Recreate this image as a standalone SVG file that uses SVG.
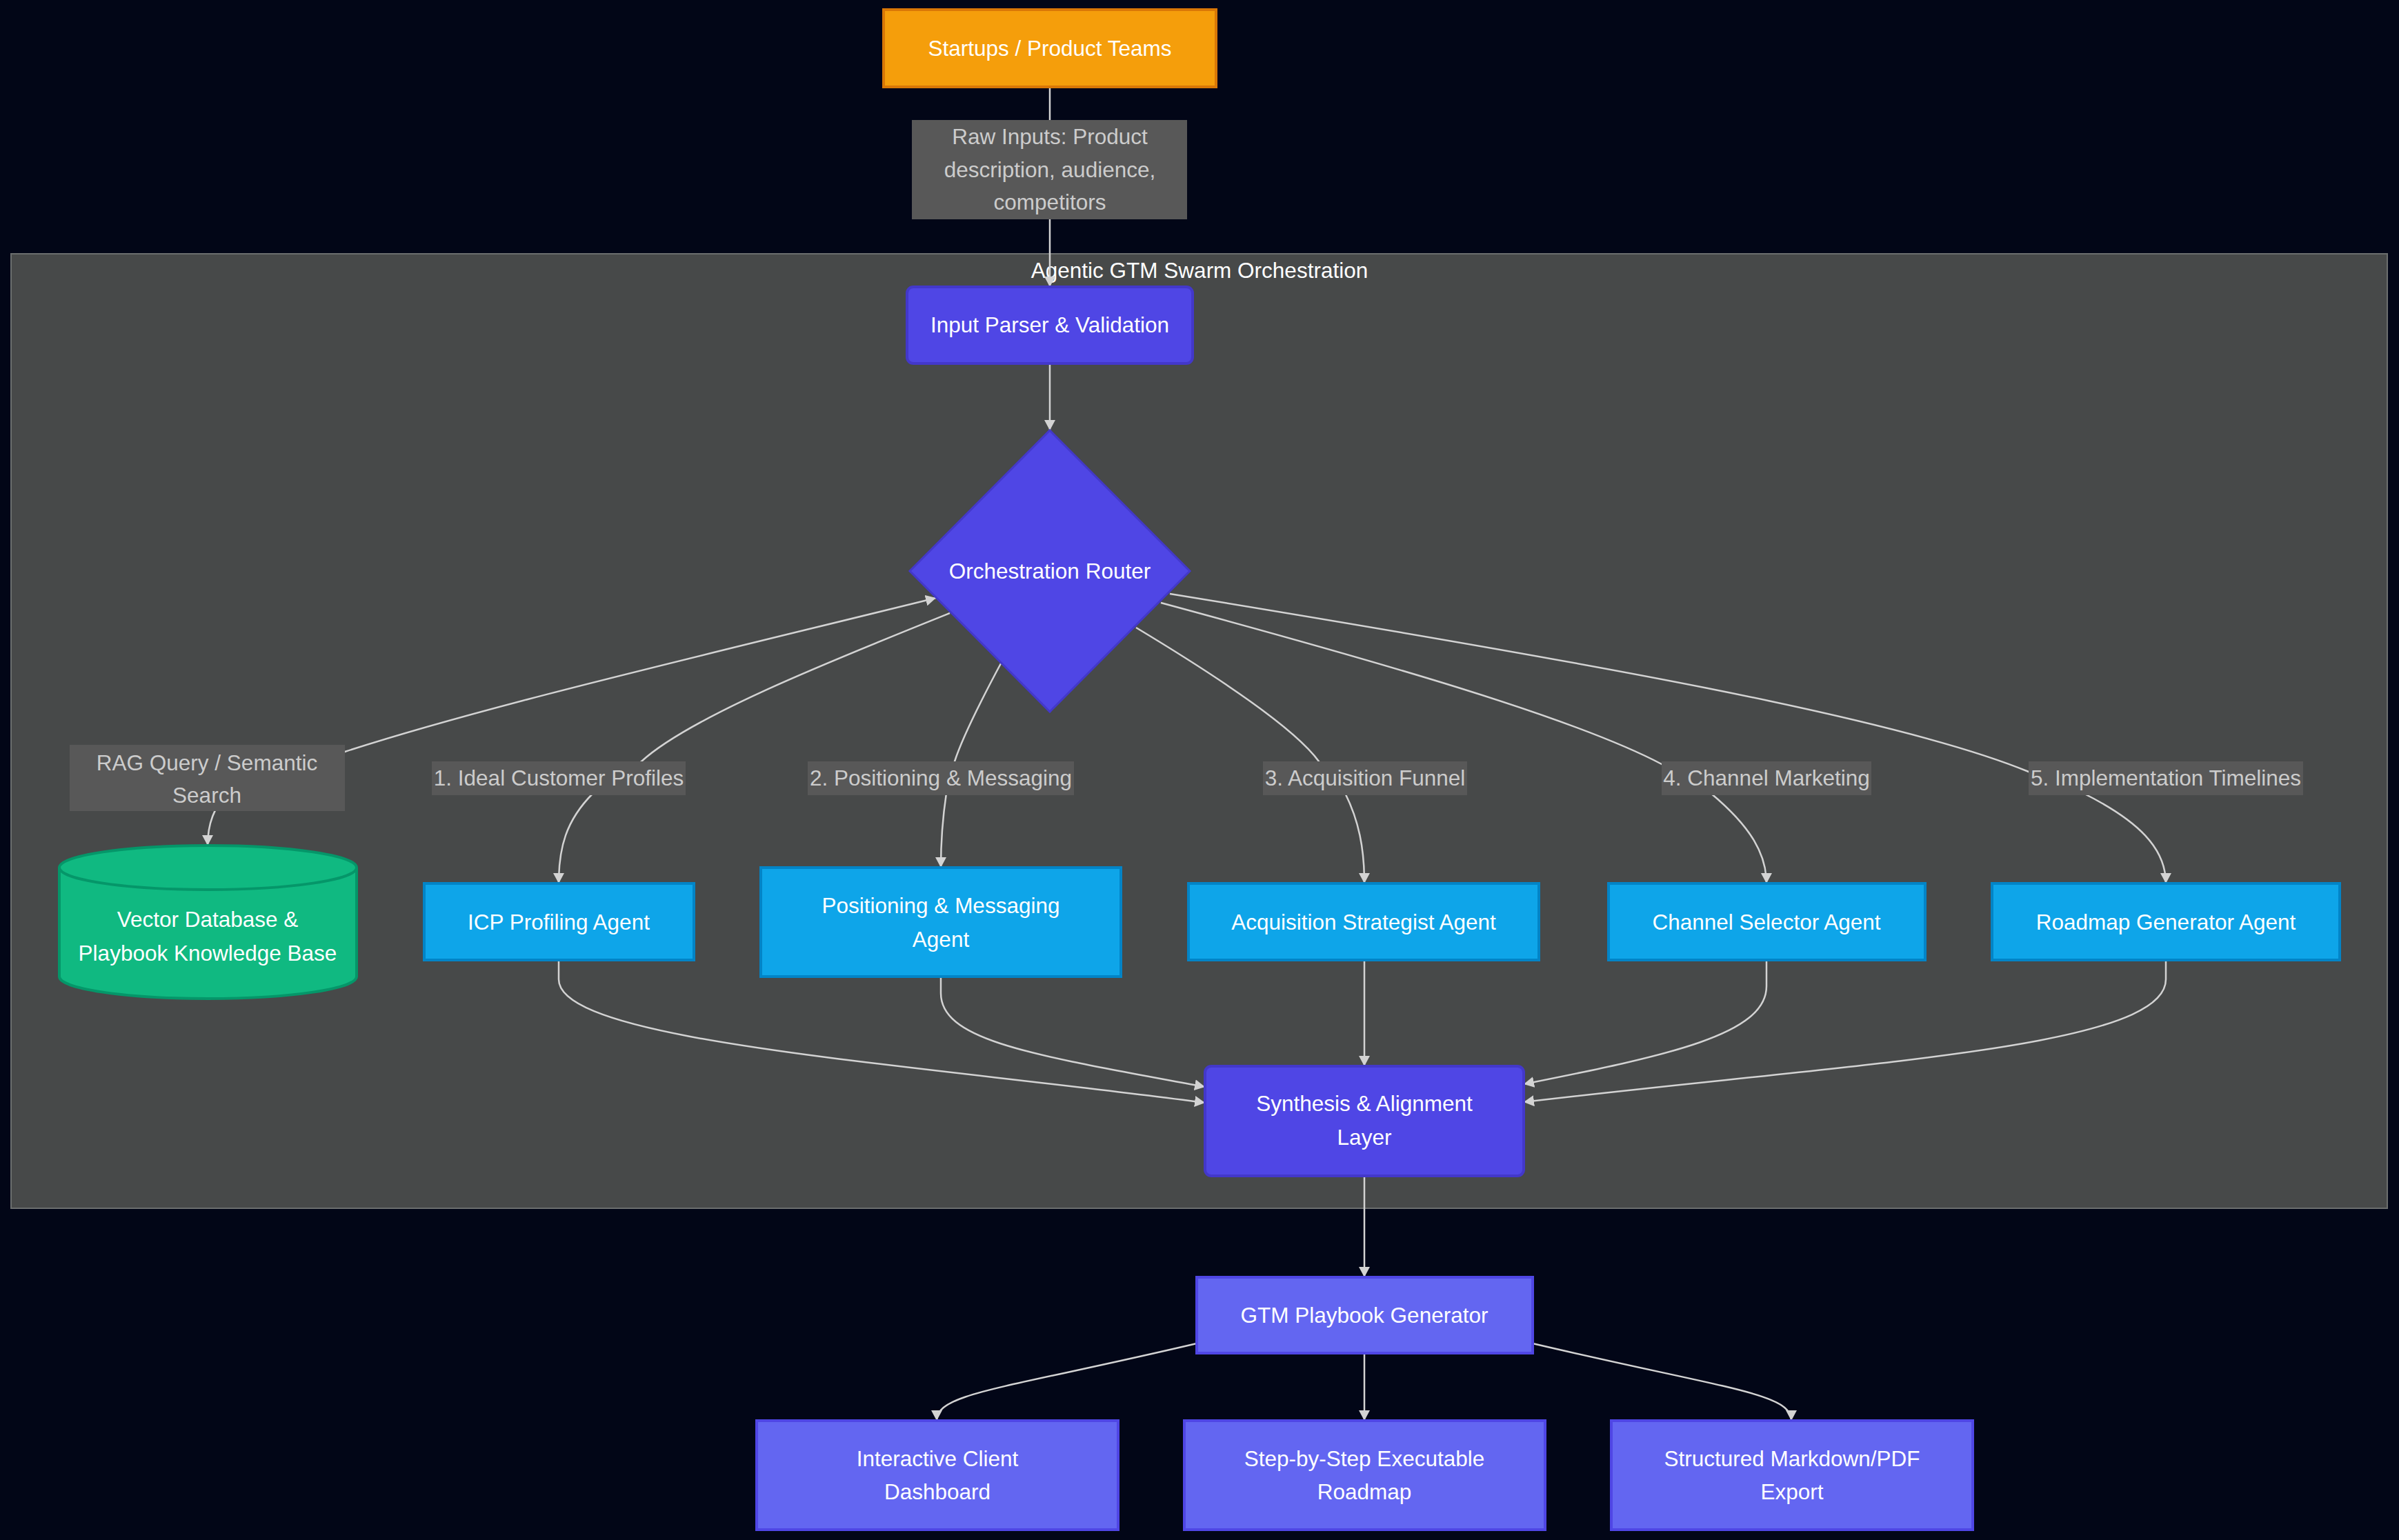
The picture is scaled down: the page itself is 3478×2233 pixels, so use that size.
<svg xmlns="http://www.w3.org/2000/svg" width="3478" height="2233" viewBox="0 0 3478 2233">
<defs>
<style>
text{font-family:"Liberation Sans",Arial,sans-serif;font-size:31.5px;text-anchor:middle;dominant-baseline:central}
.nt{fill:#ffffff}
.lt{fill:#cccccc}
.lbl{fill:#585858}
.edge{fill:none;stroke:#d3d3d3;stroke-width:2.5}
.agent{fill:#0ea5e9;stroke:#0284c7;stroke-width:4}
.core{fill:#4f46e5;stroke:#4338ca;stroke-width:4}
.out{fill:#6366f1;stroke:#4f46e5;stroke-width:4}
</style>
<marker id="arr" viewBox="0 0 15 16" refX="15" refY="8" markerWidth="15" markerHeight="16" markerUnits="userSpaceOnUse" orient="auto-start-reverse">
<path d="M0,0 L15,8 L0,16 z" fill="#d3d3d3"/>
</marker>
</defs>
<rect x="0" y="0" width="3478" height="2233" fill="#020617"/>

<g id="cluster">
<rect x="16" y="368" width="3445" height="1384" fill="#474949" stroke="#6b6e6e" stroke-width="2"/>
<text x="1739" y="392" class="nt">Agentic GTM Swarm Orchestration</text>
</g>

<g id="connectors">
<path class="edge" d="M1522 126 L1522 416" marker-end="url(#arr)"/>
<path class="edge" d="M1522 527 L1522 624" marker-end="url(#arr)"/>
<path class="edge" d="M1357 867 C1000 955,700 1025,500 1090 L330 1150 C310 1170,301 1195,301 1226" marker-start="url(#arr)" marker-end="url(#arr)"/>
<path class="edge" d="M1377 889 C1200 960,1000 1040,930 1104 L860 1150 C820 1190,810 1230,810 1281" marker-end="url(#arr)"/>
<path class="edge" d="M1451 962 C1420 1020,1395 1070,1384 1104 L1372 1150 C1366 1190,1364 1220,1364 1258" marker-end="url(#arr)"/>
<path class="edge" d="M1647 910 C1780 990,1880 1060,1912 1104 L1950 1150 C1970 1190,1978 1230,1978 1281" marker-end="url(#arr)"/>
<path class="edge" d="M1683 874 C2000 960,2280 1040,2409 1108 L2480 1150 C2540 1200,2561 1240,2561 1281" marker-end="url(#arr)"/>
<path class="edge" d="M1696 861 C2300 960,2750 1040,2941 1119 L3020 1150 C3100 1190,3140 1230,3140 1281" marker-end="url(#arr)"/>
<path class="edge" d="M810 1392 L810 1420 C810 1510,1300 1540,1747 1599" marker-end="url(#arr)"/>
<path class="edge" d="M1364 1416 L1364 1440 C1364 1510,1500 1530,1747 1576" marker-end="url(#arr)"/>
<path class="edge" d="M1978 1392 L1978 1546" marker-end="url(#arr)"/>
<path class="edge" d="M2561 1392 L2561 1430 C2561 1500,2420 1530,2209 1572" marker-end="url(#arr)"/>
<path class="edge" d="M3140 1392 L3140 1420 C3140 1520,2700 1540,2209 1598" marker-end="url(#arr)"/>
<path class="edge" d="M1978 1705 L1978 1852" marker-end="url(#arr)"/>
<path class="edge" d="M1735 1948 C1450 2015,1358 2020,1358 2060" marker-end="url(#arr)"/>
<path class="edge" d="M1978 1962 L1978 2060" marker-end="url(#arr)"/>
<path class="edge" d="M2222 1948 C2507 2015,2597 2020,2597 2060" marker-end="url(#arr)"/>
</g>

<g id="edge-labels">
<g id="lbl-raw"><rect class="lbl" x="1322" y="174" width="399" height="144"/>
<text x="1522" y="198" class="lt">Raw Inputs: Product</text>
<text x="1522" y="246" class="lt">description, audience,</text>
<text x="1522" y="293" class="lt">competitors</text></g>
<g id="lbl-rag"><rect class="lbl" x="101" y="1080" width="399" height="96"/>
<text x="300" y="1106" class="lt">RAG Query / Semantic</text>
<text x="300" y="1153" class="lt">Search</text></g>
<g id="lbl-1"><rect class="lbl" x="626" y="1104" width="368" height="49"/><text x="810" y="1128" class="lt">1. Ideal Customer Profiles</text></g>
<g id="lbl-2"><rect class="lbl" x="1171" y="1104" width="386" height="49"/><text x="1364" y="1128" class="lt">2. Positioning &amp; Messaging</text></g>
<g id="lbl-3"><rect class="lbl" x="1831" y="1104" width="296" height="49"/><text x="1979" y="1128" class="lt">3. Acquisition Funnel</text></g>
<g id="lbl-4"><rect class="lbl" x="2409" y="1104" width="304" height="49"/><text x="2561" y="1128" class="lt">4. Channel Marketing</text></g>
<g id="lbl-5"><rect class="lbl" x="2941" y="1104" width="398" height="49"/><text x="3140" y="1128" class="lt">5. Implementation Timelines</text></g>
</g>

<g id="startups">
<rect x="1281" y="14" width="482" height="112" fill="#f59e0b" stroke="#d97706" stroke-width="4"/>
<text x="1522" y="70" class="nt">Startups / Product Teams</text>
</g>

<g id="input-parser">
<rect x="1315" y="416" width="414" height="111" rx="9" class="core"/>
<text x="1522" y="471" class="nt">Input Parser &amp; Validation</text>
</g>

<g id="router">
<polygon points="1522,624 1725,828 1522,1032 1319,828" class="core" style="stroke-width:3"/>
<text x="1522" y="828" class="nt">Orchestration Router</text>
</g>

<g id="vector-db">
<path d="M86 1258 A215.5 32 0 0 0 517 1258 A215.5 32 0 0 0 86 1258 L86 1416 A215.5 32 0 0 0 517 1416 L517 1258" fill="#10b981" stroke="#059669" stroke-width="4"/>
<text x="301" y="1333" class="nt">Vector Database &amp;</text>
<text x="301" y="1382" class="nt">Playbook Knowledge Base</text>
</g>

<g id="icp-agent">
<rect x="615" y="1281" width="391" height="111" class="agent"/>
<text x="810" y="1337" class="nt">ICP Profiling Agent</text>
</g>

<g id="positioning-agent">
<rect x="1103" y="1258" width="522" height="158" class="agent"/>
<text x="1364" y="1313" class="nt">Positioning &amp; Messaging</text>
<text x="1364" y="1362" class="nt">Agent</text>
</g>

<g id="acquisition-agent">
<rect x="1723" y="1281" width="508" height="111" class="agent"/>
<text x="1977" y="1337" class="nt">Acquisition Strategist Agent</text>
</g>

<g id="channel-agent">
<rect x="2332" y="1281" width="459" height="111" class="agent"/>
<text x="2561" y="1337" class="nt">Channel Selector Agent</text>
</g>

<g id="roadmap-agent">
<rect x="2888" y="1281" width="504" height="111" class="agent"/>
<text x="3140" y="1337" class="nt">Roadmap Generator Agent</text>
</g>

<g id="synthesis">
<rect x="1747" y="1546" width="462" height="159" rx="9" class="core"/>
<text x="1978" y="1600" class="nt">Synthesis &amp; Alignment</text>
<text x="1978" y="1649" class="nt">Layer</text>
</g>

<g id="playbook-generator">
<rect x="1735" y="1852" width="487" height="110" class="out"/>
<text x="1978" y="1907" class="nt">GTM Playbook Generator</text>
</g>

<g id="dashboard">
<rect x="1097" y="2060" width="524" height="158" class="out"/>
<text x="1359" y="2115" class="nt">Interactive Client</text>
<text x="1359" y="2163" class="nt">Dashboard</text>
</g>

<g id="roadmap-out">
<rect x="1717" y="2060" width="523" height="158" class="out"/>
<text x="1978" y="2115" class="nt">Step-by-Step Executable</text>
<text x="1978" y="2163" class="nt">Roadmap</text>
</g>

<g id="export">
<rect x="2336" y="2060" width="524" height="158" class="out"/>
<text x="2598" y="2115" class="nt">Structured Markdown/PDF</text>
<text x="2598" y="2163" class="nt">Export</text>
</g>
</svg>
